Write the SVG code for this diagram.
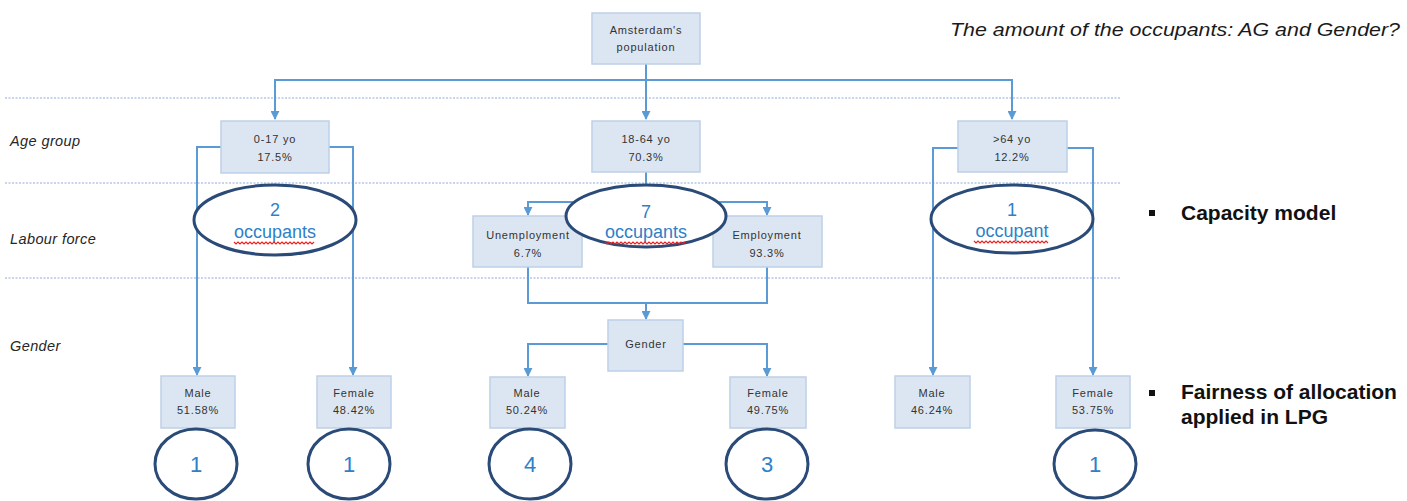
<svg xmlns="http://www.w3.org/2000/svg" width="1407" height="501" viewBox="0 0 1407 501">
<style>
.bg{fill:#ffffff}
.box{fill:#dce6f2;stroke:#bdd0e8;stroke-width:1.5}
.bt{font-family:"Liberation Sans",Arial,sans-serif;font-size:11px;fill:#333333;text-anchor:middle;letter-spacing:0.8px}
.lbl{font-family:"Liberation Sans",Arial,sans-serif;font-size:14.5px;font-style:italic;fill:#262626;letter-spacing:0.4px}
.con{fill:none;stroke:#5b9bd5;stroke-width:2}
.dot{stroke:#8eaadb;stroke-width:1.2;stroke-dasharray:2 1.5}
.ell{fill:#ffffff;stroke:#2a4a78;stroke-width:3}
.num{font-family:"Liberation Sans",Arial,sans-serif;fill:#2e80c8;text-anchor:middle}
.sq{fill:none;stroke:#e8201e;stroke-width:1.2}
.bul{font-family:"Liberation Sans",Arial,sans-serif;font-size:21px;font-weight:bold;fill:#111}
</style>
<defs>
<marker id="ah" viewBox="0 0 10 10" refX="9" refY="5" markerWidth="4.5" markerHeight="4.5" orient="auto" markerUnits="strokeWidth">
<path d="M0,0 L10,5 L0,10 z" fill="#5b9bd5"/>
</marker>
</defs>
<rect class="bg" x="0" y="0" width="1407" height="501"/>
<g id="guides">
<line class="dot" x1="5" y1="98" x2="1120" y2="98"/>
<line class="dot" x1="5" y1="183" x2="1120" y2="183"/>
<line class="dot" x1="5" y1="278" x2="1120" y2="278"/>
</g>
<g id="title">
<text x="1400" y="36" text-anchor="end" font-family="'Liberation Sans',Arial,sans-serif" font-size="18" font-style="italic" fill="#1a1a1a" textLength="450" lengthAdjust="spacingAndGlyphs">The amount of the occupants: AG and Gender?</text>
</g>
<g id="row-labels">
<text class="lbl" x="10" y="146">Age group</text>
<text class="lbl" x="10" y="244">Labour force</text>
<text class="lbl" x="10" y="351">Gender</text>
</g>
<g id="connectors">
<path class="con" d="M646,64 V119" marker-end="url(#ah)"/>
<path class="con" d="M646,80 H275 V119" marker-end="url(#ah)"/>
<path class="con" d="M646,80 H1012 V119" marker-end="url(#ah)"/>
<path class="con" d="M221,147 H197 V375" marker-end="url(#ah)"/>
<path class="con" d="M328,147 H353 V375" marker-end="url(#ah)"/>
<path class="con" d="M958,148 H933 V375" marker-end="url(#ah)"/>
<path class="con" d="M1067,148 H1093 V375" marker-end="url(#ah)"/>
<path class="con" d="M646,172 V202 H528 V215" marker-end="url(#ah)"/>
<path class="con" d="M646,202 H767 V215" marker-end="url(#ah)"/>
<path class="con" d="M528,267 V303 H767 V267"/>
<path class="con" d="M646,303 V319" marker-end="url(#ah)"/>
<path class="con" d="M608,344 H528 V376" marker-end="url(#ah)"/>
<path class="con" d="M683,344 H767 V376" marker-end="url(#ah)"/>
</g>
<g id="n-population">
<rect class="box" x="592" y="13" width="108" height="51"/>
<text class="bt" x="646" y="34">Amsterdam's</text>
<text class="bt" x="646" y="51">population</text>
</g>
<g id="n-age-0-17">
<rect class="box" x="221" y="121" width="108" height="52"/>
<text class="bt" x="275" y="143">0-17 yo</text>
<text class="bt" x="275" y="161">17.5%</text>
</g>
<g id="n-age-18-64">
<rect class="box" x="592" y="121" width="108" height="51"/>
<text class="bt" x="646" y="143">18-64 yo</text>
<text class="bt" x="646" y="161">70.3%</text>
</g>
<g id="n-age-64">
<rect class="box" x="958" y="121" width="109" height="51"/>
<text class="bt" x="1012" y="143">&gt;64 yo</text>
<text class="bt" x="1012" y="161">12.2%</text>
</g>
<g id="n-unemployment">
<rect class="box" x="473" y="216" width="109" height="51"/>
<text class="bt" x="528" y="239">Unemployment</text>
<text class="bt" x="528" y="257">6.7%</text>
</g>
<g id="n-employment">
<rect class="box" x="713" y="216" width="109" height="51"/>
<text class="bt" x="767" y="239">Employment</text>
<text class="bt" x="767" y="257">93.3%</text>
</g>
<g id="n-gender">
<rect class="box" x="608" y="320" width="75" height="51"/>
<text class="bt" x="646" y="348">Gender</text>
</g>
<g id="n-male-1">
<rect class="box" x="161" y="376" width="74" height="52"/>
<text class="bt" x="198" y="397">Male</text>
<text class="bt" x="198" y="414">51.58%</text>
</g>
<g id="n-female-1">
<rect class="box" x="317" y="376" width="74" height="52"/>
<text class="bt" x="354" y="397">Female</text>
<text class="bt" x="354" y="414">48.42%</text>
</g>
<g id="n-male-2">
<rect class="box" x="490" y="377" width="75" height="51"/>
<text class="bt" x="527" y="397">Male</text>
<text class="bt" x="527" y="414">50.24%</text>
</g>
<g id="n-female-2">
<rect class="box" x="730" y="377" width="76" height="51"/>
<text class="bt" x="768" y="397">Female</text>
<text class="bt" x="768" y="414">49.75%</text>
</g>
<g id="n-male-3">
<rect class="box" x="895" y="376" width="75" height="52"/>
<text class="bt" x="932" y="397">Male</text>
<text class="bt" x="932" y="414">46.24%</text>
</g>
<g id="n-female-3">
<rect class="box" x="1056" y="376" width="74" height="52"/>
<text class="bt" x="1093" y="397">Female</text>
<text class="bt" x="1093" y="414">53.75%</text>
</g>
<g id="e-occ-2">
<ellipse class="ell" cx="275" cy="220" rx="81" ry="35"/>
<text class="num" x="275" y="216" font-size="18">2</text>
<text class="num" x="275" y="238" font-size="18">occupants</text>
<path class="sq" d="M234,242 l2,2 l2,-2 l2,2 l2,-2 l2,2 l2,-2 l2,2 l2,-2 l2,2 l2,-2 l2,2 l2,-2 l2,2 l2,-2 l2,2 l2,-2 l2,2 l2,-2 l2,2 l2,-2 l2,2 l2,-2 l2,2 l2,-2 l2,2 l2,-2 l2,2 l2,-2 l2,2 l2,-2 l2,2 l2,-2 l2,2 l2,-2 l2,2 l2,-2 l2,2 l2,-2 l2,2 l2,-2"/>
</g>
<g id="e-occ-7">
<ellipse class="ell" cx="646" cy="216" rx="80" ry="31"/>
<text class="num" x="646" y="218" font-size="18">7</text>
<text class="num" x="646" y="238" font-size="18">occupants</text>
<path class="sq" d="M605,242 l2,2 l2,-2 l2,2 l2,-2 l2,2 l2,-2 l2,2 l2,-2 l2,2 l2,-2 l2,2 l2,-2 l2,2 l2,-2 l2,2 l2,-2 l2,2 l2,-2 l2,2 l2,-2 l2,2 l2,-2 l2,2 l2,-2 l2,2 l2,-2 l2,2 l2,-2 l2,2 l2,-2 l2,2 l2,-2 l2,2 l2,-2 l2,2 l2,-2 l2,2 l2,-2 l2,2 l2,-2"/>
</g>
<g id="e-occ-1">
<ellipse class="ell" cx="1012" cy="219" rx="81" ry="34"/>
<text class="num" x="1012" y="216" font-size="18">1</text>
<text class="num" x="1012" y="237" font-size="18">occupant</text>
<path class="sq" d="M974,241 l2,2 l2,-2 l2,2 l2,-2 l2,2 l2,-2 l2,2 l2,-2 l2,2 l2,-2 l2,2 l2,-2 l2,2 l2,-2 l2,2 l2,-2 l2,2 l2,-2 l2,2 l2,-2 l2,2 l2,-2 l2,2 l2,-2 l2,2 l2,-2 l2,2 l2,-2 l2,2 l2,-2 l2,2 l2,-2 l2,2 l2,-2 l2,2 l2,-2 l2,2"/>
</g>
<g id="c-1a">
<ellipse class="ell" cx="196" cy="464" rx="41" ry="35"/>
<text class="num" x="196" y="472" font-size="22">1</text>
</g>
<g id="c-1b">
<ellipse class="ell" cx="349" cy="464" rx="41" ry="35"/>
<text class="num" x="349" y="472" font-size="22">1</text>
</g>
<g id="c-4">
<ellipse class="ell" cx="530" cy="464" rx="41" ry="35"/>
<text class="num" x="530" y="472" font-size="22">4</text>
</g>
<g id="c-3">
<ellipse class="ell" cx="767" cy="464" rx="41" ry="35"/>
<text class="num" x="767" y="472" font-size="22">3</text>
</g>
<g id="c-1c">
<ellipse class="ell" cx="1095" cy="464" rx="41" ry="34"/>
<text class="num" x="1095" y="472" font-size="22">1</text>
</g>
<g id="bullets">
<rect x="1149" y="210" width="6" height="6" fill="#111"/>
<text class="bul" x="1181" y="220">Capacity model</text>
<rect x="1149" y="390" width="6" height="6" fill="#111"/>
<text class="bul" x="1181" y="399">Fairness of allocation</text>
<text class="bul" x="1181" y="424">applied in LPG</text>
</g>
</svg>
